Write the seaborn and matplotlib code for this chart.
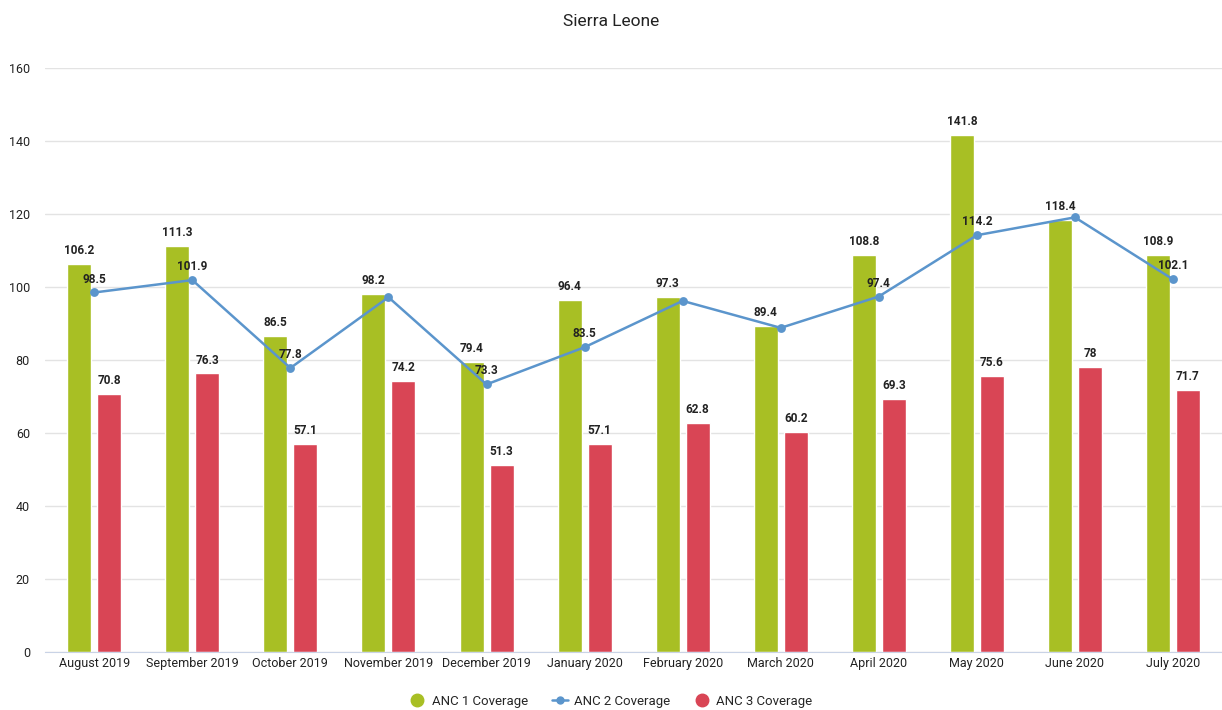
import pandas as pd
import matplotlib.pyplot as plt
import seaborn as sns
from matplotlib.lines import Line2D

months = ["August 2019", "September 2019", "October 2019", "November 2019",
          "December 2019", "January 2020", "February 2020", "March 2020",
          "April 2020", "May 2020", "June 2020", "July 2020"]
anc1 = [106.2, 111.3, 86.5, 98.2, 79.4, 96.4, 97.3, 89.4, 108.8, 141.8, 118.4, 108.9]
anc2 = [98.5, 101.9, 77.8, 97.2, 73.3, 83.5, 96.2, 88.8, 97.4, 114.2, 119.1, 102.1]
# labels hidden where they collide with the bar labels
anc2_labels = ["98.5", "101.9", "77.8", "", "73.3", "83.5", "", "", "97.4", "114.2", "", "102.1"]
anc3 = [70.8, 76.3, 57.1, 74.2, 51.3, 57.1, 62.8, 60.2, 69.3, 75.6, 78, 71.7]

green = "#a8bf24"
blue = "#5b95cc"
red = "#d94555"

sns.set_style("white")
plt.rcParams["font.family"] = ["Roboto", "DejaVu Sans"]

bars = pd.DataFrame({
    "Month": months * 2,
    "Value": anc1 + anc3,
    "Series": ["ANC 1 Coverage"] * len(months) + ["ANC 3 Coverage"] * len(months),
})

fig = plt.figure(figsize=(12.22, 7.10), dpi=100)
ax = fig.add_axes([0.037, 0.082, 0.963, 0.822])

sns.barplot(data=bars, x="Month", y="Value", hue="Series", order=months,
            palette=[green, red], width=0.612, gap=0.2, errorbar=None,
            legend=False, ax=ax, saturation=1)
sns.pointplot(x=months, y=anc2, order=months, color=blue, markers="o",
              markersize=5, linewidth=1.8, errorbar=None, ax=ax)

# data labels
for cont in ax.containers[:2]:
    ax.bar_label(cont, fmt="%g", padding=5, fontsize=8.5, fontweight="bold", color="#222222")
for i, (v, lab) in enumerate(zip(anc2, anc2_labels)):
    if lab:
        ax.annotate(lab, (i, v), xytext=(0, 5), textcoords="offset points",
                    ha="center", va="bottom", fontsize=8.5, fontweight="bold", color="#222222")

ax.set_ylim(0, 160)
ax.set_xlim(-0.5, 11.5)
ax.set_yticks(range(0, 161, 20))
ax.yaxis.grid(True, color="#e3e3e3", linewidth=1)
ax.set_axisbelow(True)
for s in ["top", "right", "left"]:
    ax.spines[s].set_visible(False)
ax.spines["bottom"].set_color("#c9d3e6")
ax.tick_params(axis="both", length=0, labelsize=9, colors="#222222")
ax.tick_params(axis="y", pad=11)
ax.set_xlabel("")
ax.set_ylabel("")

fig.suptitle("Sierra Leone", y=0.98, fontsize=12.5, color="#222222")

handles = [
    Line2D([], [], marker="o", color="none", markerfacecolor=green, markeredgecolor=green, markersize=9),
    Line2D([], [], marker="o", color=blue, markersize=5, linewidth=1.8),
    Line2D([], [], marker="o", color="none", markerfacecolor=red, markeredgecolor=red, markersize=9),
]
fig.legend(handles, ["ANC 1 Coverage", "ANC 2 Coverage", "ANC 3 Coverage"],
           loc="center", bbox_to_anchor=(0.5, 0.012), ncol=3, frameon=False,
           fontsize=9.5, handlelength=1.2, handletextpad=0.5, columnspacing=1.8)

fig.savefig("out.png", dpi=100)
